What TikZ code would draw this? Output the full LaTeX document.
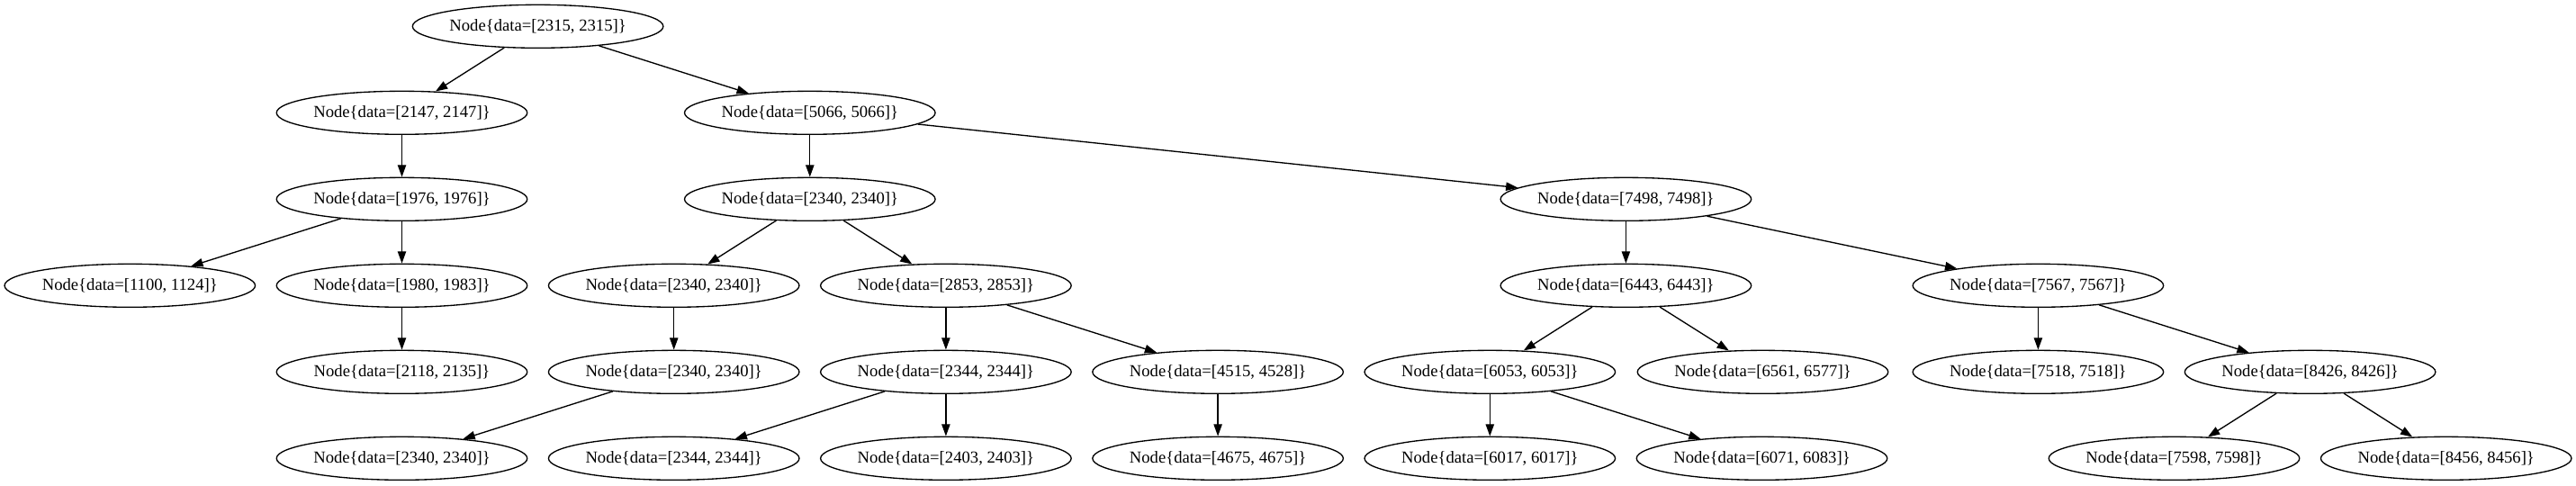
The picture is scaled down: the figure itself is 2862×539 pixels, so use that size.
\documentclass[tikz,border=0pt]{standalone}
\usepackage{fontspec}
\setmainfont{Liberation Serif}
\usetikzlibrary{shapes.geometric,arrows.meta}
\tikzset{
  tn/.style={ellipse, draw, line width=1pt, minimum width=208.9pt, minimum height=36pt, inner sep=0pt,
    font=\fontsize{14}{16}\selectfont},
  edge/.style={line width=1pt, -{Triangle[length=10pt,width=7pt]}}
}
\begin{document}
\begin{tikzpicture}[x=0.75pt,y=-0.75pt]
\useasboundingbox (0,0) rectangle (2862,539);
% row 0
\node[tn] (n2315) at (597.6,29.3) {Node\{data=[2315, 2315]\}};
% row 1
\node[tn] (n2147) at (446.5,125.3) {Node\{data=[2147, 2147]\}};
\node[tn] (n5066) at (899.8,125.3) {Node\{data=[5066, 5066]\}};
% row 2
\node[tn] (n1976) at (446.5,221.3) {Node\{data=[1976, 1976]\}};
\node[tn] (n2340b) at (899.8,221.3) {Node\{data=[2340, 2340]\}};
\node[tn] (n7498) at (1806.4,221.3) {Node\{data=[7498, 7498]\}};
% row 3
\node[tn] (n1100) at (144.3,317.3) {Node\{data=[1100, 1124]\}};
\node[tn] (n1980) at (446.5,317.3) {Node\{data=[1980, 1983]\}};
\node[tn] (n2340c) at (748.7,317.3) {Node\{data=[2340, 2340]\}};
\node[tn] (n2853) at (1050.9,317.3) {Node\{data=[2853, 2853]\}};
\node[tn] (n6443) at (1806.4,317.3) {Node\{data=[6443, 6443]\}};
\node[tn] (n7567) at (2264.4,317.3) {Node\{data=[7567, 7567]\}};
% row 4
\node[tn] (n2118) at (446.5,413.3) {Node\{data=[2118, 2135]\}};
\node[tn] (n2340d) at (748.7,413.3) {Node\{data=[2340, 2340]\}};
\node[tn] (n2344) at (1050.9,413.3) {Node\{data=[2344, 2344]\}};
\node[tn] (n4515) at (1353.1,413.3) {Node\{data=[4515, 4528]\}};
\node[tn] (n6053) at (1655.3,413.3) {Node\{data=[6053, 6053]\}};
\node[tn] (n6561) at (1958.5,413.3) {Node\{data=[6561, 6577]\}};
\node[tn] (n7518) at (2264.4,413.3) {Node\{data=[7518, 7518]\}};
\node[tn] (n8426) at (2566.6,413.3) {Node\{data=[8426, 8426]\}};
% row 5
\node[tn] (n2340e) at (446.5,509.3) {Node\{data=[2340, 2340]\}};
\node[tn] (n2344b) at (748.7,509.3) {Node\{data=[2344, 2344]\}};
\node[tn] (n2403) at (1050.9,509.3) {Node\{data=[2403, 2403]\}};
\node[tn] (n4675) at (1353.1,509.3) {Node\{data=[4675, 4675]\}};
\node[tn] (n6017) at (1655.3,509.3) {Node\{data=[6017, 6017]\}};
\node[tn] (n6071) at (1957.5,509.3) {Node\{data=[6071, 6083]\}};
\node[tn] (n7598) at (2415.5,509.3) {Node\{data=[7598, 7598]\}};
\node[tn] (n8456) at (2717.7,509.3) {Node\{data=[8456, 8456]\}};
% edges
\draw[edge] (n2315) -- (n2147);
\draw[edge] (n2315) -- (n5066);
\draw[edge] (n2147) -- (n1976);
\draw[edge] (n1976) -- (n1100);
\draw[edge] (n1976) -- (n1980);
\draw[edge] (n1980) -- (n2118);
\draw[edge] (n5066) -- (n2340b);
\draw[edge] (n5066) -- (n7498);
\draw[edge] (n2340b) -- (n2340c);
\draw[edge] (n2340b) -- (n2853);
\draw[edge] (n2340c) -- (n2340d);
\draw[edge] (n2340d) -- (n2340e);
\draw[edge] (n2853) -- (n2344);
\draw[edge] (n2853) -- (n4515);
\draw[edge] (n2344) -- (n2344b);
\draw[edge] (n2344) -- (n2403);
\draw[edge] (n4515) -- (n4675);
\draw[edge] (n7498) -- (n6443);
\draw[edge] (n7498) -- (n7567);
\draw[edge] (n6443) -- (n6053);
\draw[edge] (n6443) -- (n6561);
\draw[edge] (n6053) -- (n6017);
\draw[edge] (n6053) -- (n6071);
\draw[edge] (n7567) -- (n7518);
\draw[edge] (n7567) -- (n8426);
\draw[edge] (n8426) -- (n7598);
\draw[edge] (n8426) -- (n8456);
\end{tikzpicture}
\end{document}
